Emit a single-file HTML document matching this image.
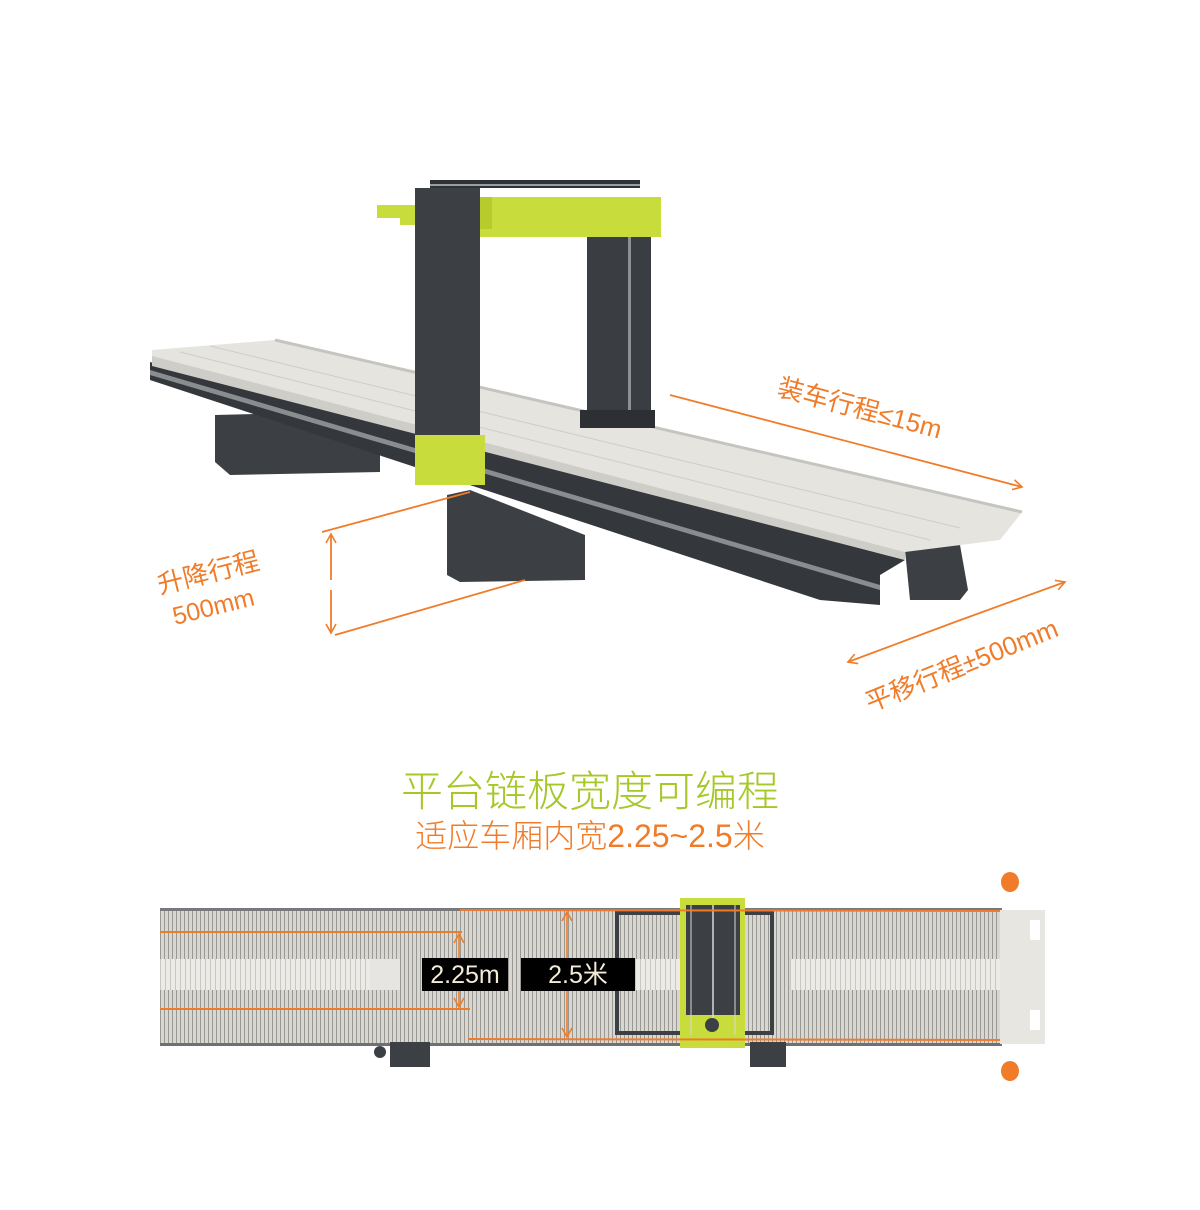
<!DOCTYPE html>
<html><head><meta charset="utf-8"><style>
html,body{margin:0;padding:0;background:#fff;}
svg{display:block}
.o{fill:#f07c2a;font-family:"Liberation Sans","Noto Sans CJK SC",sans-serif;}
</style></head><body>
<svg width="1200" height="1210" viewBox="0 0 1200 1210" xmlns="http://www.w3.org/2000/svg">
<defs>
<pattern id="slat" width="4" height="10" patternUnits="userSpaceOnUse">
<rect width="4" height="10" fill="#d9d7d2"/><rect width="1" height="10" fill="#9a9892"/>
</pattern>
<pattern id="slat2" width="5" height="10" patternUnits="userSpaceOnUse">
<rect width="5" height="10" fill="#ecebe7"/><rect width="1" height="10" fill="#c9c7c2"/>
</pattern>
<marker id="ah" markerWidth="12" markerHeight="12" refX="10" refY="6" orient="auto" markerUnits="userSpaceOnUse">
<path d="M1,1 L10,6 L1,11" fill="none" stroke="#f07c2a" stroke-width="1.6"/>
</marker>
</defs>

<!-- ===== 3D view ===== -->
<polygon points="215,415 330,412 380,440 380,472 230,475 215,462" fill="#3c3f44"/>
<polygon points="447,495 470,490 585,535 585,580 460,582 447,575" fill="#3c3f44"/>
<polygon points="815,565 880,560 880,598 828,600" fill="#3c3f44"/>
<polygon points="905,550 960,545 968,590 960,600 910,600" fill="#3c3f44"/>
<polygon points="150,362 905,560 880,575 880,605 820,600 150,380" fill="#34373c"/>
<polygon points="150,370 880,585 880,590 150,375" fill="#8a8d90"/>
<polygon points="152,350 275,340 1022,512 1000,540 905,552 152,360" fill="#e6e4df"/>
<polygon points="152,356 905,552 905,560 152,366" fill="#cfcdc7"/>
<line x1="275" y1="340" x2="1022" y2="512" stroke="#c6c4be" stroke-width="3"/>
<line x1="210" y1="346" x2="960" y2="528" stroke="#cfcdc8" stroke-width="1"/>
<line x1="180" y1="352" x2="930" y2="540" stroke="#cfcdc8" stroke-width="1"/>
<rect x="587" y="236" width="64" height="190" fill="#3a3d42"/>
<rect x="628" y="236" width="3" height="190" fill="#8d9094"/>
<rect x="580" y="410" width="75" height="18" fill="#2c2f33"/>
<rect x="430" y="180" width="210" height="8" fill="#2f3236"/>
<rect x="430" y="184" width="210" height="2" fill="#9a9da0"/>
<rect x="480" y="197" width="181" height="40" fill="#c8dc3c"/>
<rect x="480" y="197" width="12" height="32" fill="#b6cc2c"/>
<polygon points="377,205 420,205 420,225 400,225 400,218 377,218" fill="#c8dc3c"/>
<rect x="415" y="188" width="65" height="260" fill="#3c3f44"/>
<rect x="415" y="435" width="70" height="50" fill="#c8dc3c"/>

<line x1="670" y1="395" x2="1022" y2="487" stroke="#f07c2a" stroke-width="1.8" marker-end="url(#ah)"/>
<text class="o" font-size="26" transform="translate(776,395) rotate(15)">装车行程≤15m</text>
<line x1="322" y1="532" x2="470" y2="492" stroke="#f07c2a" stroke-width="1.8"/>
<line x1="335" y1="635" x2="525" y2="580" stroke="#f07c2a" stroke-width="1.8"/>
<line x1="331" y1="580" x2="331" y2="534" stroke="#f07c2a" stroke-width="1.8" marker-end="url(#ah)"/>
<line x1="331" y1="590" x2="331" y2="633" stroke="#f07c2a" stroke-width="1.8" marker-end="url(#ah)"/>
<text class="o" font-size="26" transform="translate(160,594) rotate(-14)">升降行程</text>
<text class="o" font-size="25" transform="translate(175,625) rotate(-14)">500mm</text>
<line x1="955" y1="622" x2="1065" y2="582" stroke="#f07c2a" stroke-width="1.8" marker-end="url(#ah)"/>
<line x1="955" y1="622" x2="848" y2="662" stroke="#f07c2a" stroke-width="1.8" marker-end="url(#ah)"/>
<text class="o" font-size="26" transform="translate(870,712) rotate(-22)">平移行程±500mm</text>

<text x="590" y="806" text-anchor="middle" font-size="42" fill="#a5c827" font-family="'Liberation Sans','Noto Sans CJK SC',sans-serif" font-weight="300">平台链板宽度可编程</text>
<text x="590" y="847" text-anchor="middle" font-size="32" fill="#f07c2a" font-family="'Liberation Sans','Noto Sans CJK SC',sans-serif" font-weight="300">适应车厢内宽2.25~2.5米</text>

<!-- ===== top view ===== -->
<rect x="160" y="908" width="842" height="137" fill="url(#slat)"/>
<rect x="160" y="908" width="842" height="3" fill="#77797c"/>
<rect x="160" y="1043" width="842" height="3" fill="#6e7073"/>
<rect x="160" y="959" width="235" height="31" fill="url(#slat2)"/>
<rect x="370" y="959" width="30" height="31" fill="#e6e5e1"/>
<rect x="635" y="959" width="45" height="31" fill="url(#slat2)"/>
<rect x="790" y="959" width="210" height="31" fill="url(#slat2)"/>
<rect x="1000" y="910" width="45" height="134" fill="#e8e6e1"/>
<rect x="1030" y="920" width="10" height="20" fill="#fff"/>
<rect x="1030" y="1010" width="10" height="20" fill="#fff"/>
<rect x="390" y="1042" width="40" height="25" fill="#3c3f44"/>
<circle cx="380" cy="1052" r="6" fill="#3c3f44"/>
<rect x="750" y="1042" width="36" height="25" fill="#3c3f44"/>
<rect x="617" y="913" width="155" height="120" fill="none" stroke="#3c3f44" stroke-width="4"/>
<rect x="680" y="898" width="65" height="150" fill="#c8dc3c"/>
<rect x="686" y="905" width="54" height="110" fill="#3c3f44"/>
<line x1="713" y1="905" x2="713" y2="1020" stroke="#d8d8d8" stroke-width="1.5"/>
<line x1="691" y1="905" x2="691" y2="1035" stroke="#d8d8d8" stroke-width="1"/>
<line x1="735" y1="905" x2="735" y2="1035" stroke="#d8d8d8" stroke-width="1"/>
<circle cx="712" cy="1025" r="7" fill="#3c3f44"/>
<line x1="160" y1="932" x2="462" y2="932" stroke="#f07c2a" stroke-width="2"/>
<line x1="160" y1="1009" x2="470" y2="1009" stroke="#f07c2a" stroke-width="2"/>
<line x1="460" y1="910" x2="1000" y2="911" stroke="#f07c2a" stroke-width="2"/>
<line x1="468" y1="1039" x2="1000" y2="1040" stroke="#f07c2a" stroke-width="2"/>
<line x1="459" y1="970" x2="459" y2="934" stroke="#f07c2a" stroke-width="1.6" marker-end="url(#ah)"/>
<line x1="459" y1="970" x2="459" y2="1007" stroke="#f07c2a" stroke-width="1.6" marker-end="url(#ah)"/>
<line x1="567" y1="970" x2="567" y2="912" stroke="#f07c2a" stroke-width="1.6" marker-end="url(#ah)"/>
<line x1="567" y1="970" x2="567" y2="1037" stroke="#f07c2a" stroke-width="1.6" marker-end="url(#ah)"/>
<rect x="422" y="958" width="86" height="33" fill="#000"/>
<text x="465" y="983" text-anchor="middle" font-size="25" fill="#f3ead8" font-family="'Liberation Sans','Noto Sans CJK SC',sans-serif">2.25m</text>
<rect x="521" y="958" width="114" height="33" fill="#000"/>
<text x="578" y="983" text-anchor="middle" font-size="25" fill="#f3ead8" font-family="'Liberation Sans','Noto Sans CJK SC',sans-serif">2.5米</text>
<ellipse cx="1010" cy="882" rx="9" ry="10" fill="#f07c2a"/>
<ellipse cx="1010" cy="1071" rx="9" ry="10" fill="#f07c2a"/>
</svg>
</body></html>
